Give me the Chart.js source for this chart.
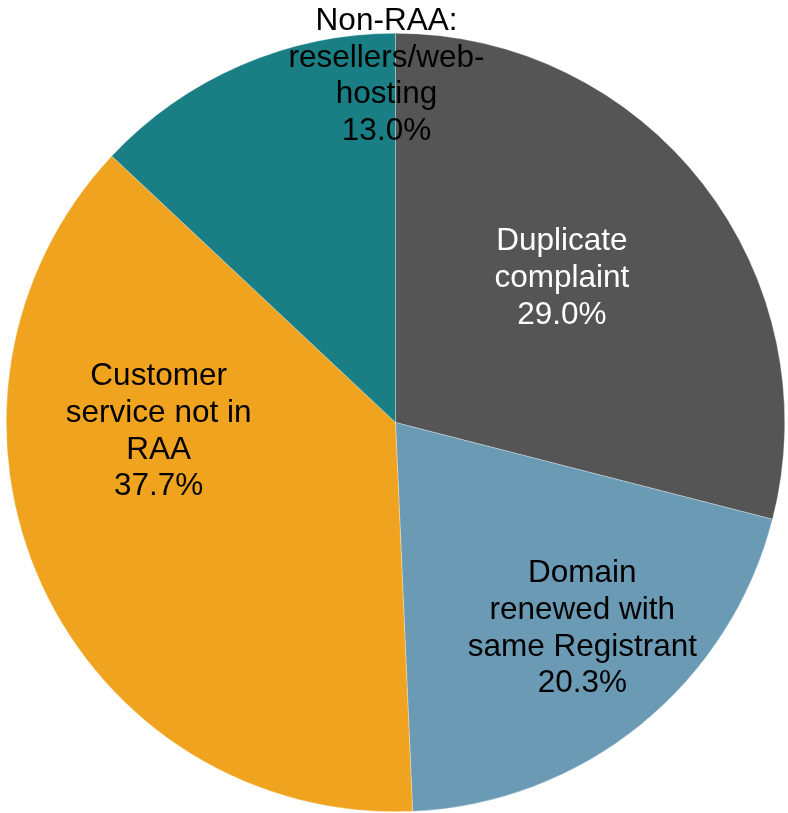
<!DOCTYPE html>
<html>
<head>
<meta charset="utf-8">
<script src="https://cdn.jsdelivr.net/npm/chart.js@4.4.1/dist/chart.umd.min.js"></script>
<style>
  body { margin: 0; background: #fff; }
</style>
</head>
<body>
<canvas id="mycanvas" width="788" height="813"></canvas>
<script>
var categories = [
  ["Duplicate", "complaint"],
  ["Domain", "renewed with", "same Registrant"],
  ["Customer", "service not in", "RAA"],
  ["Non-RAA:", "resellers/web-", "hosting"]
];
var values = [29.0, 20.3, 37.7, 13.0];

var colors = ["#555555", "#6A9AB4", "#F0A31F", "#1A7F84"];
var textColors = ["#ffffff", "#000000", "#000000", "#000000"];
// label block centres, as fraction of the radius from the pie centre
var labelOffsets = [[0.4275, -0.3774], [0.480, 0.5225], [-0.6085, 0.0167], [-0.0231, -0.896]];

var labelPlugin = {
  id: "sliceLabels",
  afterDatasetsDraw: function(chart) {
    var ctx = chart.ctx;
    var arcs = chart.getDatasetMeta(0).data;
    var fontSize = 31.5;
    var lineH = 36.7;
    var capH = fontSize * 0.716;
    ctx.save();
    ctx.font = fontSize + "px 'Liberation Sans', Arial, sans-serif";
    ctx.textAlign = "center";
    ctx.textBaseline = "alphabetic";
    for (var i = 0; i < arcs.length; i++) {
      var a = arcs[i];
      var lines = categories[i].concat([values[i].toFixed(1) + "%"]);
      var cx = a.x + labelOffsets[i][0] * a.outerRadius;
      var cy = a.y + labelOffsets[i][1] * a.outerRadius;
      ctx.fillStyle = textColors[i];
      for (var j = 0; j < lines.length; j++) {
        var by = cy + (j - (lines.length - 1) / 2) * lineH + capH / 2;
        ctx.fillText(lines[j], cx, by);
      }
    }
    ctx.restore();
  }
};

var chartdata = {
  labels: categories.map(function(c) { return c.join(" "); }),
  datasets: [
    {
      data: values,
      backgroundColor: colors,
      borderColor: "rgba(255,255,255,0.6)",
      borderWidth: 0.5,
      hoverOffset: 0
    }
  ]
};

var ctx = document.getElementById("mycanvas");

var PieChart = new Chart(ctx, {
  type: "pie",
  data: chartdata,
  options: {
    responsive: false,
    animation: false,
    layout: { padding: { left: 6, top: 32, right: 3, bottom: 0 } },
    plugins: {
      legend: { display: false },
      tooltip: { enabled: false }
    }
  },
  plugins: [labelPlugin]
});
</script>
</body>
</html>
